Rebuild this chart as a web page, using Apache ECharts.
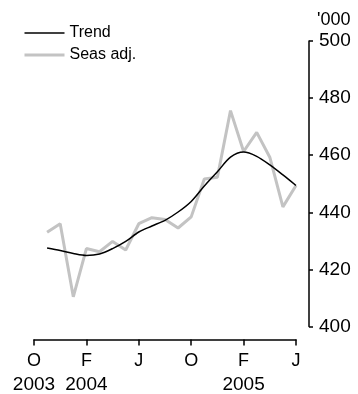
<!DOCTYPE html>
<html>
<head>
<meta charset="utf-8">
<script src="https://cdn.jsdelivr.net/npm/echarts@6/dist/echarts.min.js"></script>
<style>
  html, body { margin: 0; padding: 0; background: #fff; }
  #chart { width: 358px; height: 394px; }
</style>
</head>
<body>
<div id="chart"></div>
<script>
// Oct 2003 .. Jun 2005, monthly
const months = ['O', 'N', 'D', 'J', 'F', 'M', 'A', 'M', 'J', 'J', 'A', 'S',
                'O', 'N', 'D', 'J', 'F', 'M', 'A', 'M', 'J'];
const yearLabels = { 0: '2003', 4: '2004', 16: '2005' };

// '000, first month has no data
const seasAdj = [null, 433, 436, 410.4, 427.3, 426.2, 429.8, 426.8, 436, 438.1, 437.5,
                 434.5, 438.4, 451.7, 452.3, 475.6, 461.3, 468, 459.3, 441.9, 449.4];
const trend = [null, 427.5, 426.6, 425.6, 424.9, 425.4, 427.3, 429.8, 433.1, 435.2, 437.2,
               440.1, 443.8, 449.2, 454.2, 459.3, 461.1, 459.6, 456.6, 453.1, 449.4];

const yTicks = [400, 420, 440, 460, 480, 500];

const FONT = '"Liberation Sans", Arial, sans-serif';
const GREY = '#c3c3c3';
const chart = echarts.init(document.getElementById('chart'));

chart.setOption({
  animation: false,
  backgroundColor: '#fff',
  textStyle: { fontFamily: FONT },
  legend: {
    orient: 'vertical',
    left: 23,
    top: 25,
    padding: 0,
    itemWidth: 40,
    itemHeight: 16,
    itemGap: 6,
    data: [
      { name: 'Trend', lineStyle: { color: '#000', width: 1.5 } },
      { name: 'Seas adj.', lineStyle: { color: GREY, width: 3 } },
    ],
    itemStyle: { opacity: 0 },
    textStyle: { fontFamily: FONT, fontSize: 16, lineHeight: 16, color: '#000' },
  },
  grid: { left: 34, right: 62, top: 41, bottom: 66 },
  xAxis: {
    type: 'category',
    data: months,
    boundaryGap: false,
    offset: 13,
    axisLine: { lineStyle: { color: '#000', width: 1.5 } },
    axisTick: { interval: 3, length: 6, lineStyle: { color: '#000', width: 1.5 } },
    axisLabel: {
      interval: 3,
      margin: 12,
      color: '#000',
      formatter: (val, idx) => {
        const y = yearLabels[idx];
        return y ? '{m|' + val + '}\n{y|' + y + '}' : '{m|' + val + '}';
      },
      rich: {
        m: { fontFamily: FONT, fontSize: 18, lineHeight: 20, color: '#000' },
        y: { fontFamily: FONT, fontSize: 19, lineHeight: 26, color: '#000' },
      },
    },
    splitLine: { show: false },
  },
  yAxis: {
    type: 'value',
    position: 'right',
    min: yTicks[0],
    max: yTicks[yTicks.length - 1],
    interval: 20,
    offset: 13,
    name: "'000",
    nameLocation: 'end',
    nameGap: 21,
    nameTextStyle: { fontFamily: FONT, fontSize: 18, color: '#000', align: 'left', verticalAlign: 'middle', padding: [0, 0, 0, 8] },
    axisLine: { show: true, lineStyle: { color: '#000', width: 1.5 } },
    axisTick: { show: true, length: 4, lineStyle: { color: '#000', width: 1.5 } },
    axisLabel: { margin: 10, color: '#000', fontSize: 19, fontFamily: FONT },
    splitLine: { show: false },
  },
  series: [
    {
      name: 'Seas adj.',
      type: 'line',
      data: seasAdj,
      symbol: 'none',
      lineStyle: { color: GREY, width: 3 },
      itemStyle: { color: GREY },
    },
    {
      name: 'Trend',
      type: 'line',
      data: trend,
      symbol: 'none',
      smooth: 0.3,
      lineStyle: { color: '#000', width: 1.5 },
      itemStyle: { color: '#000' },
    },
  ],
});
</script>
</body>
</html>
